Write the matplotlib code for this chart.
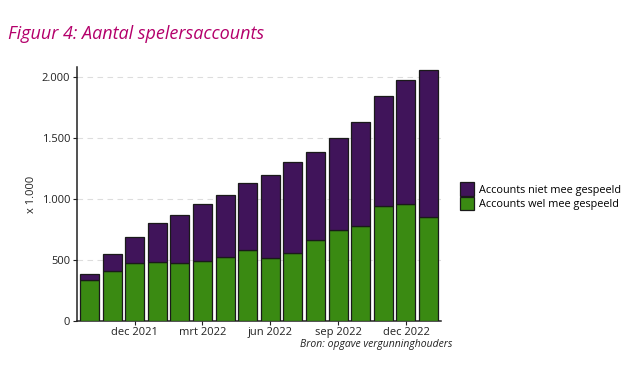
import numpy as np
import matplotlib.pyplot as plt

# maanden okt 2021 t/m jan 2023
maanden = ['okt 2021', 'nov 2021', 'dec 2021', 'jan 2022', 'feb 2022', 'mrt 2022',
           'apr 2022', 'mei 2022', 'jun 2022', 'jul 2022', 'aug 2022', 'sep 2022',
           'okt 2022', 'nov 2022', 'dec 2022', 'jan 2023']
# x 1.000
totaal = [387, 545, 685, 798, 866, 957, 1032, 1130, 1195, 1302, 1385, 1500,
          1625, 1840, 1972, 2055]
wel_gespeeld = [335, 406, 472, 483, 478, 494, 521, 580, 518, 555, 667, 741,
                779, 938, 960, 848]
niet_gespeeld = [t - w for t, w in zip(totaal, wel_gespeeld)]

tick_labels = ['dec 2021', 'mrt 2022', 'jun 2022', 'sep 2022', 'dec 2022']

paars = '#40145a'
groen = '#3a8a12'

plt.rcParams['font.family'] = ['Open Sans', 'DejaVu Sans']

fig = plt.figure(figsize=(6.38, 3.67), dpi=100)
ax = fig.add_axes([0.1207, 0.1253, 0.5705, 0.6926])

x = np.arange(len(maanden))
ax.bar(x, wel_gespeeld, width=0.84, color=groen, edgecolor='#1a1a1a',
       linewidth=0.9, label='Accounts wel mee gespeeld', zorder=3)
ax.bar(x, niet_gespeeld, bottom=wel_gespeeld, width=0.84, color=paars,
       edgecolor='#1a1a1a', linewidth=0.9, label='Accounts niet mee gespeeld', zorder=3)

ax.set_xlim(-0.55, len(maanden) - 0.45)
ax.set_ylim(0, 2080)
ax.set_yticks([0, 500, 1000, 1500, 2000])
ax.set_yticklabels(['0', '500', '1.000', '1.500', '2.000'])
ax.set_xticks([maanden.index(t) for t in tick_labels])
ax.set_xticklabels(tick_labels)
ax.tick_params(axis='both', labelsize=8, colors='#222222', length=3, width=0.8, pad=2)
ax.tick_params(axis='x', pad=1)
ax.yaxis.grid(True, linestyle=(0, (5, 4)), color='#dddddd', linewidth=0.8, zorder=0)

for s in ['top', 'right']:
    ax.spines[s].set_visible(False)
for s in ['left', 'bottom']:
    ax.spines[s].set_linewidth(1.1)
    ax.spines[s].set_color('#222222')

ax.set_ylabel('x 1.000', fontsize=8, color='#222222', labelpad=3)

handles, labels = ax.get_legend_handles_labels()
leg = fig.legend(handles[::-1], labels[::-1], loc='center left',
                 bbox_to_anchor=(0.705, 0.465), frameon=False, fontsize=7.8,
                 handlelength=1.3, handleheight=1.55, handletextpad=0.5,
                 labelspacing=0.1)

fig.text(0.012, 0.908, 'Figuur 4: Aantal spelersaccounts', fontsize=13,
         style='italic', color='#b4006b', va='center', ha='left')
fig.text(0.709, 0.06, 'Bron: opgave vergunninghouders', fontsize=7.5,
         style='italic', color='#222222', va='center', ha='right')

fig.savefig('out.png', dpi=100)
